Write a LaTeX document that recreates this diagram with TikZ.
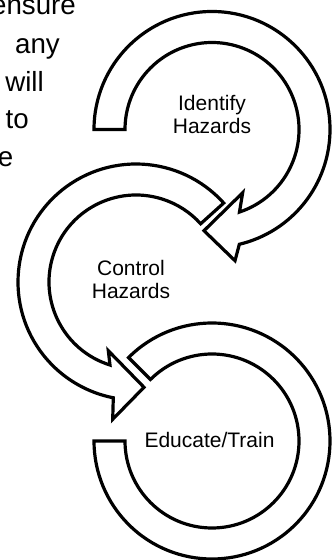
\documentclass[tikz,border=0pt]{standalone}
\usepackage{fontspec}
\setmainfont{Liberation Sans}
\tikzset{
  ringshape/.style={draw=black, fill=white, line width=3.2pt, line join=miter},
  lbl/.style={inner sep=0pt, font=\fontsize{21}{23}\selectfont, align=center},
  side/.style={inner sep=0pt, font=\fontsize{27.7}{38}\selectfont, anchor=base east}
}
\begin{document}
\begin{tikzpicture}[x=1pt,y=1pt]
\useasboundingbox (0,0) rectangle (333,560);
\clip (0,0) rectangle (333,560);
% bottom ring (Educate/Train)
\draw[ringshape] (128.56,202.44) arc[start angle=135, end angle=-180, radius=118]
  -- (125,119) arc[start angle=-180, end angle=135, radius=87] -- cycle;
% middle ring (Control Hazards) with arrowhead
\draw[ringshape] (223.69,356.96) arc[start angle=42, end angle=258.9, radius=118]
  -- (112.7,140.7) -- (144,172.7) -- (108.3,209.3) -- (109.99,194.98)
  arc[start angle=252.6, end angle=42, radius=87] -- cycle;
% top ring (Identify Hazards) with arrowhead
\draw[ringshape] (94,430.5) arc[start angle=180, end angle=-76.6, radius=118]
  -- (235,299.3) -- (204,329.3) -- (242.7,367.3) -- (239.47,347.95)
  arc[start angle=-71.6, end angle=180, radius=87] -- cycle;
% labels
\node[lbl, anchor=north] (identify) at (212,464.7) {Identify\\Hazards};
\node[lbl, anchor=north] (control) at (131,300.3) {Control\\Hazards};
\node[lbl, anchor=base] (educate) at (209.5,112.7) {Educate/Train};
% clipped paragraph text at left
\node[side] (w1) at (76,545) {ensure};
\node[side] (w2) at (60,506) {any};
\node[side] (w3) at (44,468) {will};
\node[side] (w4) at (29,431) {to};
\node[side] (w5) at (13.5,393) {e};
\end{tikzpicture}
\end{document}
